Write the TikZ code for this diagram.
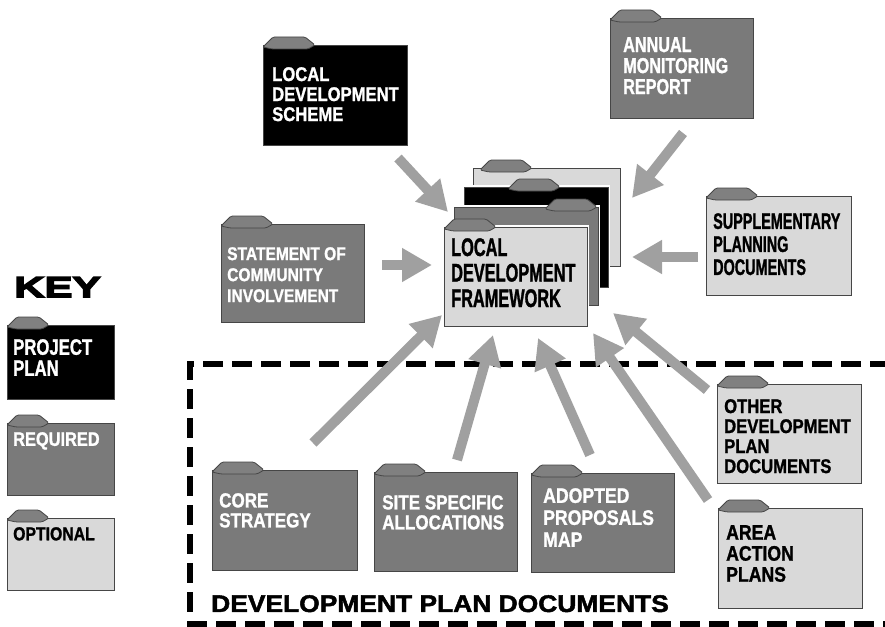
\documentclass[tikz,border=0pt]{standalone}
\usepackage{fontspec}
\setmainfont{Liberation Sans}
\newfontfamily\fA{Liberation Sans}[FakeStretch=0.84,FakeBold=1.2]
\newfontfamily\fB{Liberation Sans}[FakeStretch=0.75,FakeBold=1.2]
\newfontfamily\fC{Liberation Sans}[FakeStretch=0.64,FakeBold=1.2]
\newfontfamily\fW{Liberation Sans}[FakeStretch=1.1,FakeBold=2]
\newfontfamily\fK{Liberation Sans}[FakeStretch=1.45,FakeBold=5]
\usetikzlibrary{arrows.meta}
\definecolor{fmid}{RGB}{122,122,122}
\definecolor{flight}{RGB}{217,217,217}
\definecolor{tabc}{RGB}{128,128,128}
\definecolor{edgec}{RGB}{70,70,70}
\definecolor{arrc}{RGB}{160,160,160}
\newcommand\fld[7][52]{%
  \draw[body,#6] (#2,#3) rectangle (#4,#5);
  \draw[tabst] (#2+#7,#3+2) -- (#2+#7+10,#3-8) -- (#2+#7+#1-10,#3-8) -- (#2+#7+#1,#3) -- (#2+#7+#1-7,#3+4) -- (#2+#7+9,#3+4) -- cycle;
}
\newcommand\halo[4]{\draw[white,line width=4pt] (#1,#2) rectangle (#3,#4);}
\begin{document}
\begin{tikzpicture}[x=1pt,y=-1pt,
  body/.style={draw=edgec, line width=0.8pt},
  tabst/.style={draw=edgec, fill=tabc, line width=0.8pt, rounded corners=1.5pt},
  txt/.style={anchor=north west, inner sep=0pt, align=left},
  wtxt/.style={txt, text=white},
  btxt/.style={txt, text=black},
  arr/.style={draw=arrc, line width=10pt, -{Triangle[width=32pt,length=30pt]}},
  bord/.style={line width=6pt, dash pattern=on 20pt off 9pt}]
\useasboundingbox (0,0) rectangle (885,626);
\clip (0,0) rectangle (885,626);
\fill[white] (0,0) rectangle (885,626);

% dashed border
\draw[bord] (890,364) -- (190,364) -- (190,624) -- (890,624);

% key
\node[txt, font=\fK\bfseries\fontsize{29}{30}\selectfont] (key) at (14,277) {KEY};
\fld[42]{7}{325}{114}{399}{fill=black}{0}
\node[wtxt, font=\fB\bfseries\fontsize{22.3}{21}\selectfont] (kpp) at (13,339) {PROJECT\\PLAN};
\fld[42]{7}{423}{114}{495}{fill=fmid}{0}
\node[wtxt, font=\fA\bfseries\fontsize{19.5}{21}\selectfont] (kreq) at (13,432) {REQUIRED};
\fld[42]{7}{518}{114}{590}{fill=flight}{0}
\node[btxt, font=\fA\bfseries\fontsize{18.8}{21}\selectfont] (kopt) at (13,527) {OPTIONAL};

% outer folders
\fld{263}{45}{407}{145}{fill=black}{0}
\node[wtxt, font=\fA\bfseries\fontsize{19.8}{20}\selectfont] (lds) at (272,67) {LOCAL\\DEVELOPMENT\\SCHEME};
\fld{610}{18}{753}{118}{fill=fmid}{0}
\node[wtxt, font=\fB\bfseries\fontsize{21.6}{21}\selectfont] (amr) at (623,37) {ANNUAL\\MONITORING\\REPORT};
\fld{706}{196}{851}{295}{fill=flight}{0}
\node[btxt, font=\fC\bfseries\fontsize{22.5}{23}\selectfont] (spd) at (713,213) {SUPPLEMENTARY\\PLANNING\\DOCUMENTS};
\fld{221}{224}{364}{322}{fill=fmid}{0}
\node[wtxt, font=\fA\bfseries\fontsize{18.5}{21}\selectfont] (sci) at (227,247) {STATEMENT OF\\COMMUNITY\\INVOLVEMENT};

% central stack
\halo{473}{168}{620}{266}
\fld{473}{168}{620}{266}{fill=flight}{7}
\halo{464}{187}{608}{287}
\fld{464}{187}{608}{287}{fill=black}{44}
\halo{454}{207}{598}{305}
\fld{454}{207}{598}{305}{fill=fmid}{91}
\halo{444}{227}{587}{326}
\fld{444}{227}{587}{326}{fill=flight}{0}
\node[btxt, font=\fC\bfseries\fontsize{25.5}{25.5}\selectfont] (ldf) at (451,238) {LOCAL\\DEVELOPMENT\\FRAMEWORK};

% development plan documents
\fld{212}{470}{357}{570}{fill=fmid}{0}
\node[wtxt, font=\fA\bfseries\fontsize{20.3}{20}\selectfont] (cs) at (219,493) {CORE\\STRATEGY};
\fld{374}{472}{517}{571}{fill=fmid}{0}
\node[wtxt, font=\fA\bfseries\fontsize{20.3}{20}\selectfont] (ssa) at (382,495) {SITE SPECIFIC\\ALLOCATIONS};
\fld{531}{473}{674}{572}{fill=fmid}{0}
\node[wtxt, font=\fA\bfseries\fontsize{21}{22}\selectfont] (apm) at (543,488) {ADOPTED\\PROPOSALS\\MAP};
\fld{717}{384}{861}{483}{fill=flight}{0}
\node[btxt, font=\fA\bfseries\fontsize{19.8}{20}\selectfont] (odp) at (724,399) {OTHER\\DEVELOPMENT\\PLAN\\DOCUMENTS};
\fld{718}{508}{862}{608}{fill=flight}{0}
\node[btxt, font=\fA\bfseries\fontsize{21}{21}\selectfont] (aap) at (726,525) {AREA\\ACTION\\PLANS};
\node[btxt, font=\fW\bfseries\fontsize{24}{25}\selectfont] (dpd) at (211,595) {DEVELOPMENT PLAN DOCUMENTS};

% arrow end points
\coordinate (a1s) at (398,158); \coordinate (a1e) at (448,212);
\coordinate (a2s) at (382,265); \coordinate (a2e) at (432,265);
\coordinate (a3s) at (683,133); \coordinate (a3e) at (632,198);
\coordinate (a4s) at (698,257); \coordinate (a4e) at (632,257);
\coordinate (a5s) at (313,443); \coordinate (a5e) at (442,315);
\coordinate (a6s) at (457,460); \coordinate (a6e) at (493,335);
\coordinate (a7s) at (590,455); \coordinate (a7e) at (538,338);
\coordinate (a8s) at (708,500); \coordinate (a8e) at (593,333);
\coordinate (a9s) at (707,390); \coordinate (a9e) at (613,313);
\foreach \i in {1,...,9}{\draw[arr] (a\i s) -- (a\i e);}
\end{tikzpicture}
\end{document}
